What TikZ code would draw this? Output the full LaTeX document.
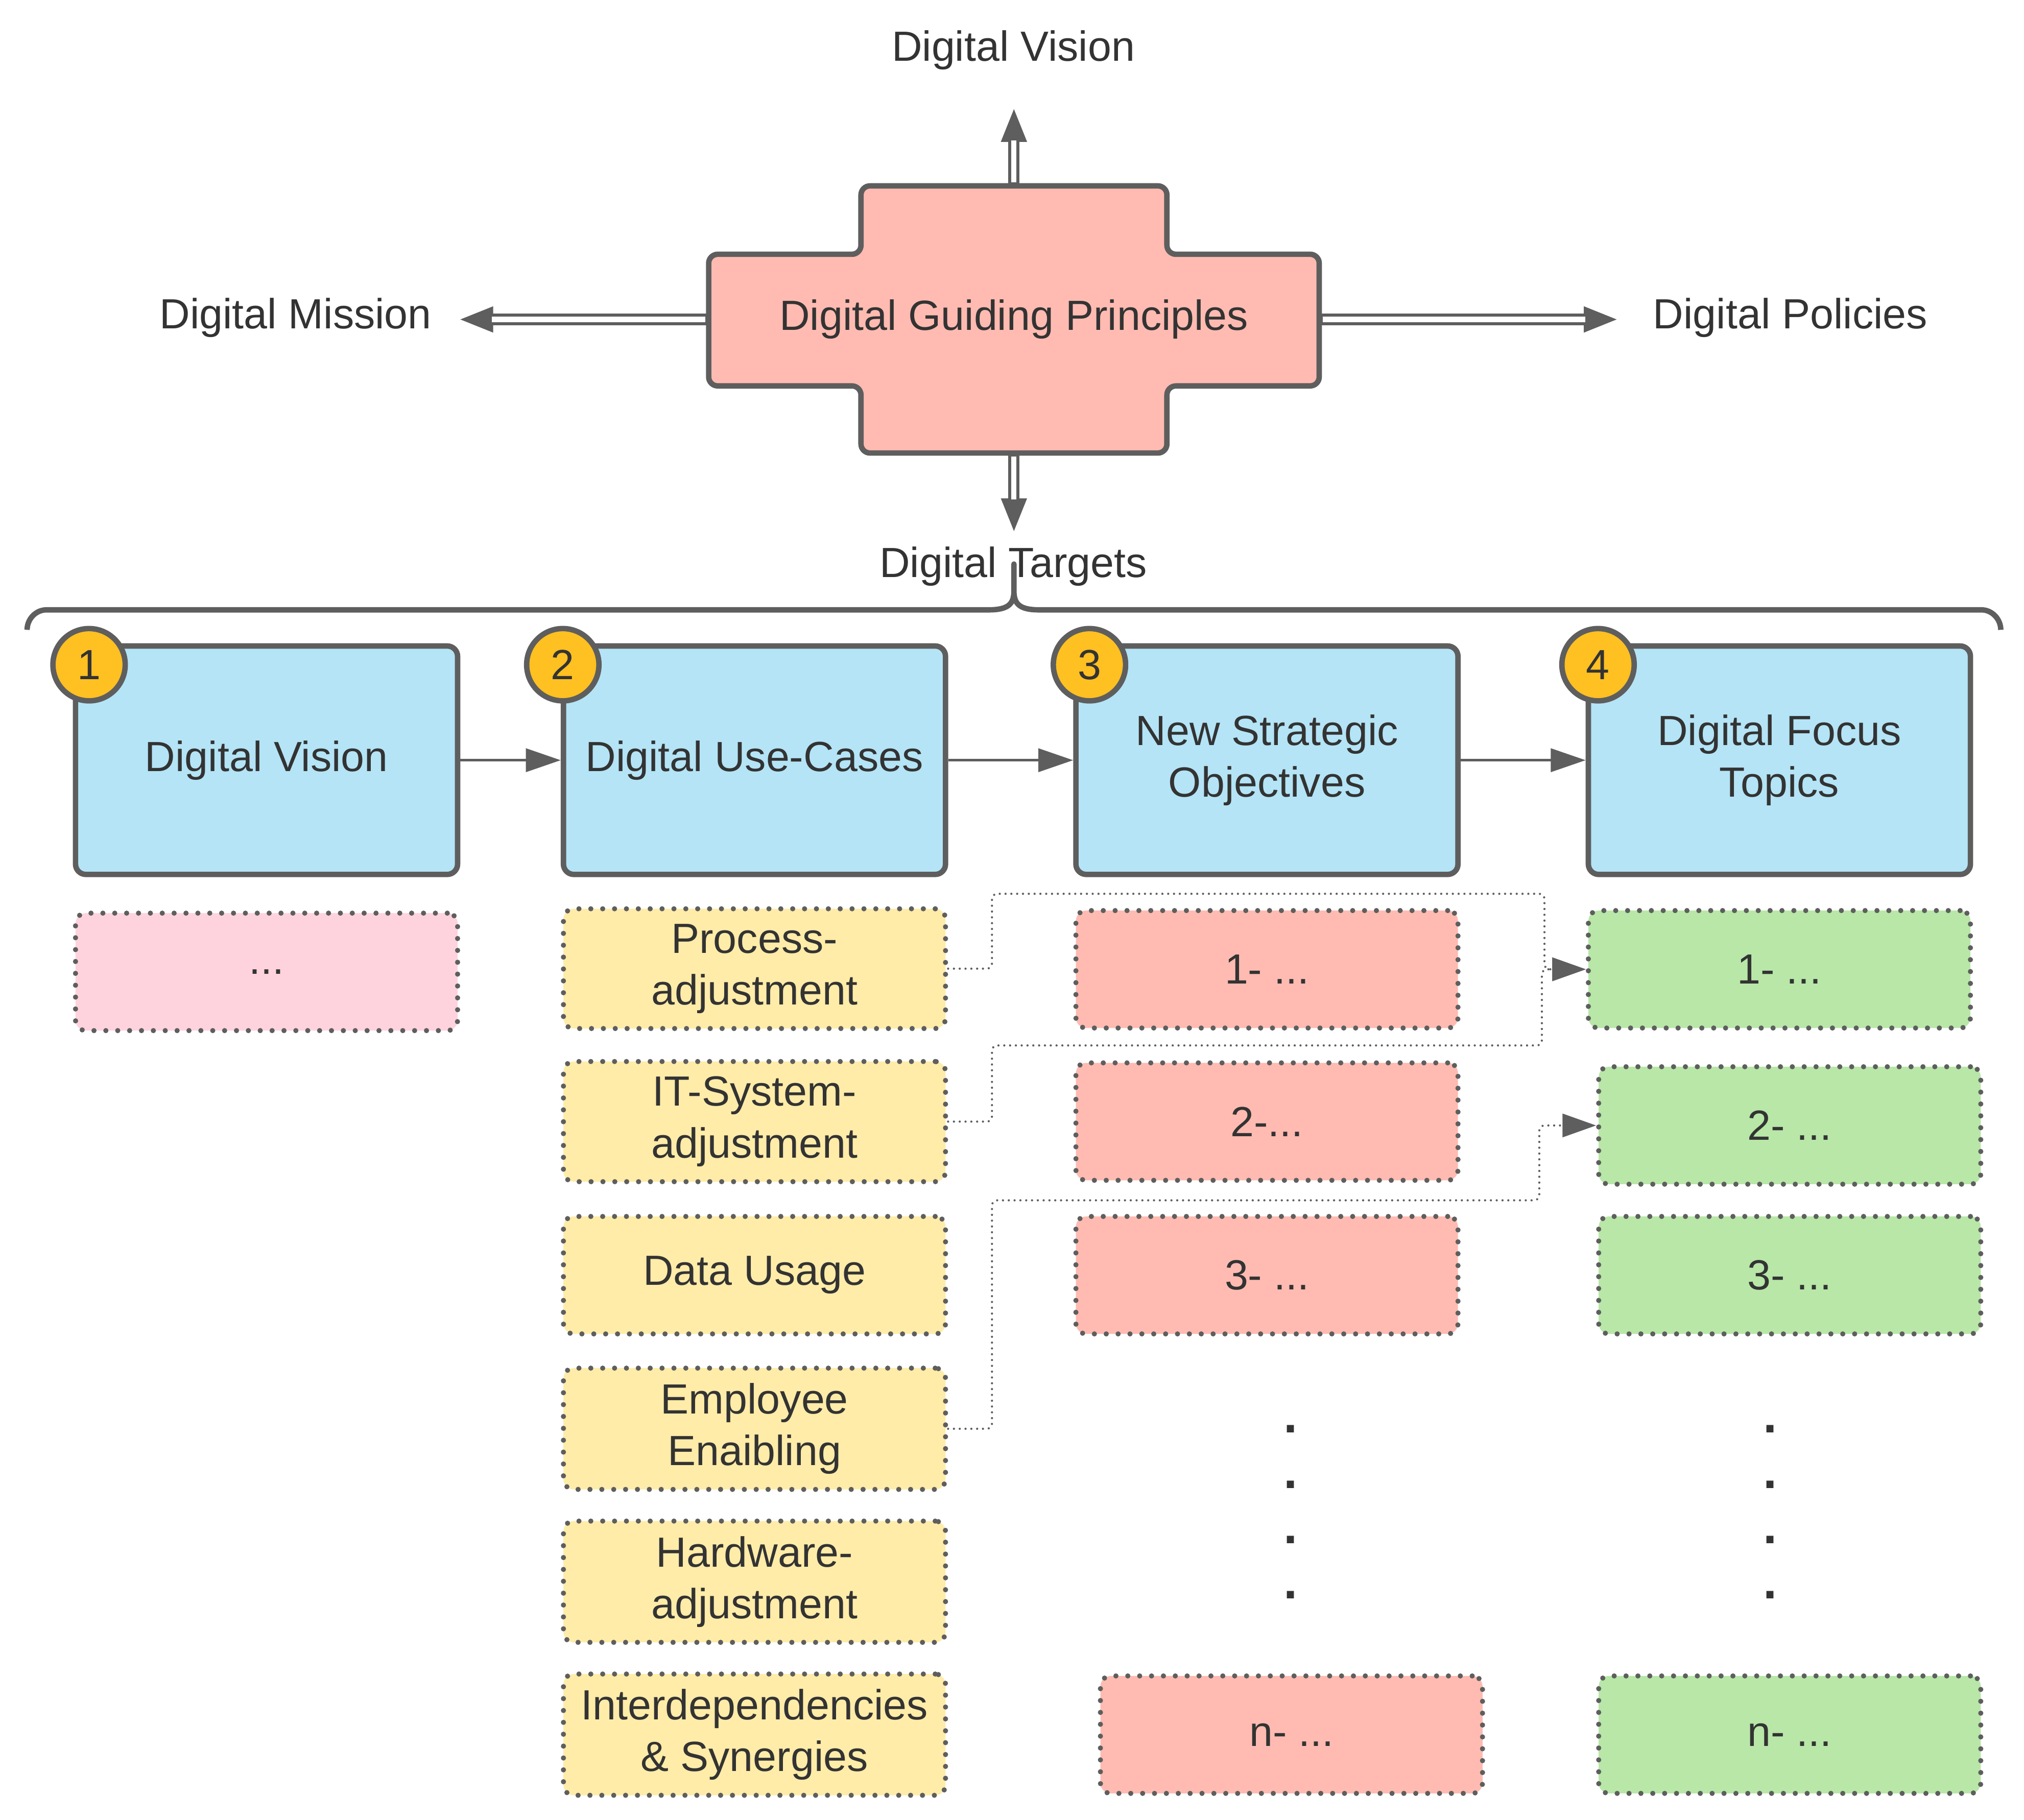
\documentclass[tikz,border=0pt]{standalone}
\usepackage{fontspec}
\setmainfont{Liberation Sans}
\usetikzlibrary{arrows.meta}
\definecolor{gline}{HTML}{5E5E5E}
\definecolor{txt}{HTML}{333333}
\definecolor{rose}{HTML}{FFBBB1}
\definecolor{sky}{HTML}{B4E4F6}
\definecolor{amber}{HTML}{FFC022}
\definecolor{blush}{HTML}{FFD3DE}
\definecolor{butter}{HTML}{FFECA8}
\definecolor{mint}{HTML}{B8E7A8}
\begin{document}
\begin{tikzpicture}[x=0.1mm,y=-0.1mm,
	font=\fontsize{9.3}{11.4}\selectfont, text=txt,
	lbl/.style={inner sep=0pt},
	stepbox/.style={draw=gline, line width=0.42mm, rounded corners=0.8mm, fill=sky, minimum width=29.6mm, minimum height=17.7mm, align=center},
	badge/.style={circle, draw=gline, line width=0.42mm, fill=amber, minimum size=5.6mm, inner sep=0pt},
	item/.style={draw=gline, line width=0.4mm, dash pattern=on 0pt off 0.92mm, line cap=round, rounded corners=0.8mm, minimum width=29.6mm, minimum height=9.1mm, align=center},
	flow/.style={color=gline, line width=0.2mm, -{Triangle[length=2.7mm,width=1.8mm]}},
	link/.style={draw=gline, line width=0.17mm, dash pattern=on 0pt off 0.45mm, line cap=round, rounded corners=0.4mm, -{Triangle[length=2.6mm,width=1.8mm]}},
	dbl/.style={draw=gline, line width=0.88mm, shorten >=#1, -{Triangle[length=2.7mm,width=1.8mm]},
		postaction={draw=white, line width=0.4mm, -, shorten <=0.2mm, shorten >=#1+2.6mm}}]
\useasboundingbox (0,0) rectangle (1568,1410);
% guiding principles
\draw[gline, line width=0.42mm, fill=rose, rounded corners=0.7mm]
	(785.5,144) -- (904,144) -- (904,197) -- (1022,197) -- (1022,299) -- (904,299)
	-- (904,351) -- (667,351) -- (667,299) -- (549,299) -- (549,197) -- (667,197)
	-- (667,144) -- cycle;
\node (gp) at (785.5,247.5) [minimum width=47.3mm, minimum height=20.7mm, inner sep=0pt] {Digital Guiding Principles};
\node[lbl] (vis) at (785,39) {Digital Vision};
\node[lbl] (mis) at (229,246) {Digital Mission};
\node[lbl] (pol) at (1387,246) {Digital Policies};
\node[lbl] (tar) at (785,439) {Digital Targets};
\draw[dbl=2.8mm] (gp.north) -- (gp.north |- vis.south);
\draw[dbl=1.0mm] (gp.south) -- (gp.south |- tar.north);
\draw[dbl=2.0mm] (gp.west) -- (gp.west -| mis.east);
\draw[dbl=2.6mm] (gp.east) -- (gp.east -| pol.west);
% brace
\draw[gline, line width=0.42mm, line join=round]
	(21,488) .. controls (21,479.7) and (27.7,472.5) .. (36,472.5) -- (766,472.5)
	.. controls (781,472.5) and (785.5,468) .. (785.5,458) -- (785.5,437) -- (785.5,458)
	.. controls (785.5,468) and (790,472.5) .. (805,472.5) -- (1535,472.5)
	.. controls (1543.3,472.5) and (1550,479.7) .. (1550,488);
% steps
\node[stepbox] (b1) at (206.5,589) {Digital Vision};
\node[stepbox] (b2) at (584.5,589) {Digital Use-Cases};
\node[stepbox] (b3) at (981.5,589) {New Strategic\\Objectives};
\node[stepbox] (b4) at (1378.5,589) {Digital Focus\\Topics};
\node[badge] (n1) at (69,515) {1};
\node[badge] (n2) at (436,515) {2};
\node[badge] (n3) at (844,515) {3};
\node[badge] (n4) at (1238,515) {4};
\path[flow]
	(b1) edge (b2)
	(b2) edge (b3)
	(b3) edge (b4);
% items
\node[item, fill=blush] (p1) at (206.5,753) {...};
\node[item, fill=butter] (y1) at (584.5,750.5) {Process-\\adjustment};
\node[item, fill=butter] (y2) at (584.5,869) {IT-System-\\adjustment};
\node[item, fill=butter] (y3) at (584.5,988) {Data Usage};
\node[item, fill=butter] (y4) at (584.5,1107) {Employee\\Enaibling};
\node[item, fill=butter] (y5) at (584.5,1225.5) {Hardware-\\adjustment};
\node[item, fill=butter] (y6) at (584.5,1344) {Interdependencies\\\& Synergies};
\node[item, fill=rose] (r1) at (981.5,751) {1- ...};
\node[item, fill=rose] (r2) at (981.5,869) {2-...};
\node[item, fill=rose] (r3) at (981.5,988) {3- ...};
\node[item, fill=rose] (rn) at (1000.5,1344) {n- ...};
\node[item, fill=mint] (g1) at (1378.5,751) {1- ...};
\node[item, fill=mint] (g2) at (1386.5,872) {2- ...};
\node[item, fill=mint] (g3) at (1386.5,988) {3- ...};
\node[item, fill=mint] (gn) at (1386.5,1344) {n- ...};
\node[align=center, inner sep=0pt, font=\fontsize{11}{12.2}\selectfont\bfseries] (d3) at (1000,1171.5) {.\\.\\.\\.};
\node[align=center, inner sep=0pt, font=\fontsize{11}{12.2}\selectfont\bfseries] (d4) at (1371.5,1171.5) {.\\.\\.\\.};
% links
\draw[link] (y1.east) -- ++(34,0) |- ++(428,-58) |- (g1.west);
\draw[link] (y2.east) -- ++(34,0) |- ++(426,-59) |- (g1.west);
\draw[link] (y4.east) -- ++(34,0) |- ++(424,-177) |- (g2.west);
\end{tikzpicture}
\end{document}
